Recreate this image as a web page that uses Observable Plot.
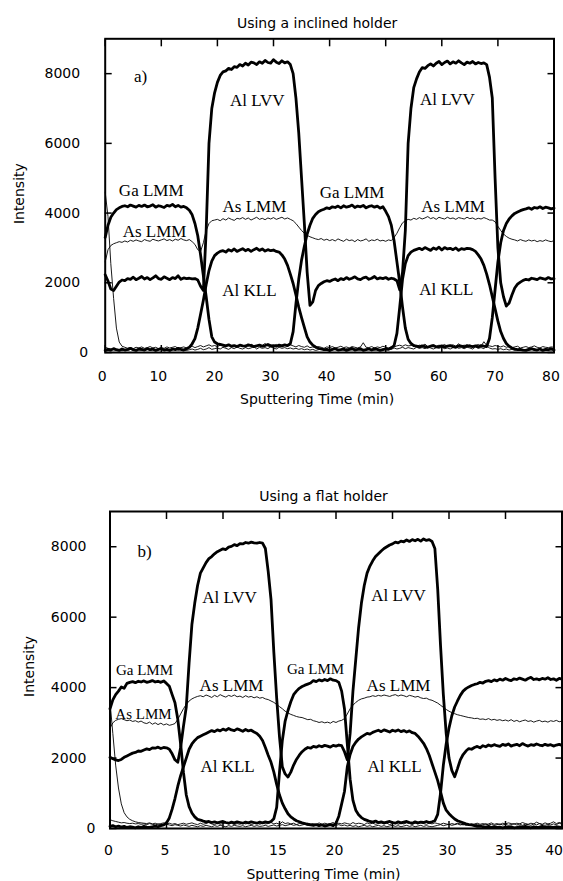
<!DOCTYPE html>
<html>
<head>
<meta charset="utf-8">
<script src="https://cdn.jsdelivr.net/npm/d3@7"></script>
<script src="https://cdn.jsdelivr.net/npm/@observablehq/plot@0.6"></script>
<style>
  html, body { margin: 0; padding: 0; background: #fff; overflow: hidden; }
  #a, #b { width: 563px; }
</style>
</head>
<body>
<div id="a"></div>
<div id="b"></div>
<script>
// ---------- Panel a) inclined holder, 0–80 min, sampled every 0.5 min ----------
const titleA = "Using a inclined holder";
const titleB = "Using a flat holder";
const xLabel = "Sputtering Time (min)";
const yLabel = "Intensity";
const xTicksA = [0, 10, 20, 30, 40, 50, 60, 70, 80];
const xTicksB = [0, 5, 10, 15, 20, 25, 30, 35, 40];
const yTicks = [0, 2000, 4000, 6000, 8000];
const yTicksUpper = [2000, 4000, 6000, 8000];
const yTicksZero = [0];

const timeA = d3.range(0, 80.5, 0.5);
const timeB = d3.range(0, 40.25, 0.25);

const alLvvA = [2230,2050,1820,1780,1900,2020,2080,2060,2120,2100,
 2160,2090,2130,2180,2110,2150,2090,2140,2200,2120,
 2100,2170,2130,2090,2150,2120,2200,2100,2140,2120,
 2130,2110,2120,2080,1900,1780,3500,6000,7000,7450,
 7750,7950,8050,8080,8150,8120,8200,8180,8260,8220,
 8300,8250,8330,8310,8260,8340,8300,8380,8320,8300,
 8400,8330,8290,8370,8310,8340,8260,8000,7300,6300,
 5000,3700,2300,1350,1450,1780,1920,1980,2030,2060,
 2040,2080,2110,2060,2120,2090,2150,2100,2130,2170,
 2110,2090,2140,2160,2100,2130,2180,2110,2140,2120,
 2150,2100,2130,2110,2060,1800,2300,3500,6000,7000,
 7600,7850,8050,8170,8150,8230,8280,8220,8300,8350,
 8260,8320,8360,8280,8340,8300,8370,8310,8260,8330,
 8300,8350,8280,8320,8290,8310,8260,7900,7300,5000,
 3000,2000,1600,1330,1420,1650,1850,1960,2020,2070,
 2100,2080,2130,2110,2090,2140,2120,2100,2150,2110,
 2120];

const gaLmmA = [3300,3650,3880,4000,4100,4150,4190,4210,4180,4230,
 4200,4170,4220,4190,4230,4180,4200,4240,4170,4210,
 4190,4160,4220,4200,4250,4180,4220,4170,4190,4150,
 4080,3950,3700,3350,2800,2200,1600,950,450,300,
 250,230,210,190,220,180,200,170,210,190,
 180,220,200,170,190,210,180,200,230,190,
 200,180,210,190,220,200,250,600,1400,2100,
 2650,3050,3400,3650,3850,3960,4040,4080,4110,4150,
 4130,4180,4160,4200,4150,4210,4170,4190,4230,4160,
 4200,4180,4220,4150,4190,4210,4170,4200,4140,4180,
 4050,3900,3650,3200,2600,2000,1300,700,380,260,
 200,180,160,190,170,150,180,200,160,170,
 190,160,180,200,170,150,190,180,160,200,
 180,170,190,160,200,180,170,400,1000,1800,
 2600,3150,3500,3700,3830,3920,3990,4030,4070,4100,
 4120,4150,4110,4160,4140,4180,4130,4170,4150,4120,
 4140];

const alKllA = [60,90,70,110,80,60,100,70,90,120,
 80,60,100,90,70,110,80,100,60,90,
 110,70,90,60,100,80,120,90,70,110,
 150,250,400,700,1100,1500,1950,2350,2620,2780,
 2850,2900,2920,2880,2950,2910,2970,2900,2940,2980,
 2920,2960,2900,2950,2990,2930,2970,2910,2950,2920,
 2940,2900,2880,2800,2680,2500,2250,1980,1650,1300,
 1000,720,450,300,210,160,120,100,80,90,
 60,90,110,70,80,100,60,90,120,70,
 90,110,60,80,100,70,110,90,60,80,
 100,90,130,200,550,1300,2100,2550,2780,2880,
 2930,2960,2990,2950,3010,2970,2930,3000,2960,3020,
 2940,3010,2970,2990,2950,3000,2930,2980,2960,2990,
 2980,2950,2900,2800,2680,2500,2250,1950,1600,1250,
 900,600,400,260,180,130,100,80,90,70,
 60,90,110,80,70,100,60,90,80,110,
 70];

const asLmmA = [2600,2950,3070,3120,3150,3180,3160,3200,3170,3220,
 3190,3230,3200,3180,3240,3210,3190,3250,3220,3200,
 3230,3260,3210,3240,3200,3250,3220,3270,3230,3210,
 3240,3180,3100,2950,2900,3150,3500,3700,3780,3800,
 3820,3780,3840,3800,3860,3820,3790,3850,3830,3870,
 3820,3860,3800,3840,3880,3820,3850,3810,3860,3830,
 3870,3820,3850,3880,3830,3860,3820,3780,3700,3600,
 3500,3420,3360,3320,3290,3260,3240,3270,3220,3250,
 3210,3240,3200,3260,3220,3190,3250,3210,3230,3180,
 3240,3200,3220,3260,3190,3230,3210,3250,3200,3220,
 3190,3230,3210,3300,3420,3580,3720,3780,3820,3800,
 3850,3820,3870,3830,3860,3900,3840,3870,3820,3880,
 3850,3830,3880,3840,3860,3820,3870,3850,3830,3880,
 3840,3860,3820,3850,3830,3870,3840,3800,3800,3750,
 3620,3500,3400,3330,3280,3250,3230,3200,3240,3210,
 3190,3230,3200,3220,3180,3210,3190,3230,3200,3180,
 3210];

const surfaceA = [4600,3900,2550,1550,700,300,180,150,120,140,
 110,150,130,160,120,140,170,130,150,110,
 140,120,160,130,150,170,120,140,160,130,
 150,180,140,170,200,160,190,220,180,200,
 170,210,190,160,230,180,200,170,220,190,
 210,180,240,190,170,220,200,260,180,210,
 190,230,170,210,200,180,220,190,160,200,
 170,150,190,140,160,130,170,150,120,160,
 140,170,130,150,180,140,160,130,170,150,
 130,160,280,150,140,170,130,160,140,180,
 150,130,170,160,190,210,180,220,190,200,
 230,180,210,190,240,170,200,220,180,210,
 190,230,170,200,220,180,250,190,210,180,
 220,190,200,230,180,310,200,190,170,200,
 180,160,190,150,170,140,160,180,130,150,
 170,140,160,190,150,130,170,150,140,160,
 150];

const minorA = [150,120,100,80,60,70,50,80,60,90,
 70,50,90,60,80,100,60,70,50,80,
 90,60,80,50,70,100,60,90,70,60,
 80,100,70,90,120,80,100,140,90,110,
 130,100,150,120,90,140,110,160,120,100,
 140,110,130,170,100,150,120,140,110,160,
 130,100,150,120,140,110,130,100,120,90,
 110,80,100,70,90,60,80,100,70,90,
 60,80,100,70,90,60,110,80,70,100,
 80,60,90,70,110,80,60,90,70,100,
 80,110,90,130,100,120,150,110,140,120,
 100,150,120,140,110,160,130,100,140,120,
 150,110,130,100,140,170,120,140,110,150,
 130,100,160,120,140,110,190,130,100,110,
 90,110,80,100,70,90,60,80,100,70,
 90,60,80,110,70,90,60,100,80,70,
 90];

// ---------- Panel b) flat holder, 0–40 min, sampled every 0.25 min ----------
const alLvvB = [2020,1980,1950,1930, 1960,2020,2060,2100, 2140,2160,2200,2190, 2230,2260,2240,2290,
 2280,2310,2270,2300, 2290,2250,2120,1950, 1880,2300,2900,3450, 4700,5800,6400,6900,
 7250,7400,7550,7660, 7720,7800,7860,7900, 7940,7920,7990,8010, 8060,8030,8090,8080,
 8120,8100,8130,8110, 8100,8120,8100,7950, 7300,6500,5000,3700, 2600,1750,1550,1460,
 1600,1800,1960,2080, 2180,2250,2300,2280, 2330,2310,2350,2320, 2360,2340,2310,2360,
 2340,2370,2350,2180, 1950,2700,3900,4800, 5700,6400,6900,7250, 7450,7600,7720,7800,
 7880,7950,8000,8050, 8080,8130,8110,8160, 8140,8190,8150,8200, 8170,8210,8160,8220,
 8180,8200,8150,7950, 6800,5200,3800,2700, 2000,1650,1470,1700, 1950,2100,2200,2270,
 2250,2300,2330,2290, 2350,2320,2370,2340, 2380,2350,2330,2390, 2360,2400,2340,2370,
 2390,2350,2410,2370, 2340,2380,2360,2400, 2370,2350,2390,2360, 2380,2340,2370,2390,
 2360];

const gaLmmB = [3400,3650,3800,3900, 4020,3980,4120,4150, 4170,4140,4180,4160, 4190,4150,4170,4200,
 4160,4180,4150,4190, 4120,4040,3800,3570, 3100,2400,1600,950, 620,440,330,260,
 240,210,190,200, 170,190,160,180, 200,170,150,180, 160,190,170,150,
 180,160,190,170, 150,180,160,190, 170,200,280,600, 1600,2500,3050,3350,
 3600,3800,3900,3980, 4030,4070,4100,4130, 4200,4170,4220,4190, 4230,4200,4250,4210,
 4200,4150,3900,3400, 2400,1400,800,520, 390,310,260,230, 200,180,210,170,
 190,160,180,200, 170,150,190,160, 180,200,170,150, 190,160,180,170,
 200,170,190,220, 400,1000,1800,2400, 2850,3200,3450,3620, 3780,3900,3970,4020,
 4060,4090,4110,4150, 4130,4180,4200,4170, 4220,4190,4240,4210, 4260,4220,4200,4250,
 4230,4270,4240,4210, 4260,4290,4230,4250, 4220,4260,4240,4280, 4230,4250,4210,4260,
 4240];

const alKllB = [60,80,50,70, 40,60,30,50, 40,20,50,30, 60,40,30,50,
 70,50,80,100, 160,300,550,850, 1200,1500,1750,2000, 2250,2400,2500,2580,
 2620,2660,2700,2740, 2780,2750,2800,2770, 2820,2790,2840,2800, 2780,2830,2800,2760,
 2810,2770,2790,2740, 2700,2620,2500,2300, 2080,1880,1600,1250, 950,720,560,420,
 330,270,220,190, 160,140,120,100, 90,110,80,100, 70,90,110,80,
 150,350,700,1050, 1750,2100,2330,2450, 2540,2600,2650,2700, 2680,2730,2760,2790,
 2750,2800,2770,2740, 2790,2760,2800,2750, 2780,2740,2770,2720, 2700,2620,2520,2420,
 2270,2080,1840,1600, 1360,1050,720,520, 420,340,270,220, 190,160,130,110,
 100,80,60,70, 50,40,60,30, 50,30,40,20, 40,30,50,20,
 30,50,40,60, 40,20,50,30, 40,60,30,50, 40,30,50,40,
 30];

const asLmmB = [2850,3000,3070,3100, 3120,3090,3060,3080, 3040,3060,3020,3050, 3000,2980,3020,2960,
 3000,2950,2990,2940, 2970,2930,2950,2980, 3100,3250,3400,3520, 3620,3680,3720,3750,
 3770,3740,3790,3760, 3720,3780,3740,3800, 3760,3730,3780,3750, 3790,3740,3760,3720,
 3770,3730,3750,3710, 3740,3700,3720,3680, 3660,3620,3580,3520, 3460,3400,3330,3280,
 3240,3210,3180,3160, 3150,3120,3090,3100, 3060,3040,3010,3030, 3000,3020,2990,3040,
 3010,3050,3070,3120, 3250,3400,3500,3580, 3640,3680,3700,3730, 3740,3770,3750,3780,
 3760,3790,3770,3750, 3780,3800,3760,3790, 3770,3740,3780,3760, 3730,3750,3710,3690,
 3700,3660,3640,3600, 3560,3500,3440,3380, 3330,3290,3260,3230, 3210,3190,3170,3150,
 3140,3120,3130,3100, 3110,3090,3120,3080, 3100,3070,3090,3060, 3080,3050,3090,3040,
 3070,3030,3060,3080, 3040,3060,3020,3050, 3070,3030,3050,3020, 3060,3040,3070,3030,
 3050];

const surfaceB = [3600,2700,1800,1150, 700,450,330,260, 220,190,170,160, 150,140,160,130,
 150,120,140,160, 130,150,120,140, 110,130,150,120, 140,160,130,110,
 150,120,140,170, 130,110,150,120, 140,160,130,150, 110,140,120,160,
 130,150,110,140, 160,120,150,130, 140,170,130,150, 120,190,140,160,
 130,150,110,140, 160,120,150,130, 140,110,160,120, 150,130,140,170,
 120,150,130,160, 140,120,170,130, 150,140,110,160, 130,150,120,140,
 160,130,150,110, 140,170,120,150, 130,160,140,120, 150,130,170,140,
 120,150,130,160, 140,120,150,130, 110,140,120,150, 130,100,140,120,
 110,130,150,120, 140,110,130,160, 120,140,110,150, 130,160,140,120,
 150,130,170,140, 120,150,130,180, 140,120,160,130, 150,190,140,170,
 150];

const minorB = [250,220,200,180, 160,170,150,140, 150,130,140,120, 130,110,140,120,
 100,130,110,90, 120,100,80,110, 90,70,100,80, 60,90,70,50,
 80,60,90,70, 50,80,60,90, 70,50,80,60, 90,70,60,80,
 50,70,90,60, 80,60,70,90, 60,80,100,70, 90,110,80,100,
 120,90,110,80, 100,120,90,110, 80,100,120,90, 110,80,100,130,
 90,110,80,100, 70,90,60,80, 50,70,90,60, 80,50,70,90,
 60,80,50,70, 90,60,80,50, 70,90,60,80, 50,70,90,60,
 80,60,50,70, 90,110,80,100, 120,90,110,130, 100,120,90,110,
 130,100,120,90, 110,140,100,120, 90,110,130,100, 120,90,110,140,
 100,130,90,120, 110,90,130,100, 140,110,90,120, 100,130,110,150,
 120];

// ---------- In-plot annotations (data coordinates: minutes, intensity) ----------
const annotTextA = ["a)", "Al LVV", "Al LVV", "Ga LMM", "Ga LMM", "As LMM", "As LMM", "As LMM", "Al KLL", "Al KLL"];
const annotTimeA = [6.3, 27.1, 61.0, 8.2, 44.0, 8.8, 26.6, 62.0, 25.7, 60.8];
const annotIntA  = [7747, 7058, 7087, 4480, 4422, 3305, 4041, 4021, 1634, 1662];

const annotTextB = ["b)", "Al LVV", "Al LVV", "As LMM", "As LMM", "Al KLL", "Al KLL"];
const annotTimeB = [3.05, 10.58, 25.53, 10.75, 25.53, 10.4, 25.18];
const annotIntB  = [7708, 6401, 6449, 3892, 3901, 1600, 1600];

const annotSmallTextB = ["Ga LMM", "Ga LMM", "As LMM"];
const annotSmallTimeB = [3.05, 18.19, 2.96];
const annotSmallIntB  = [4347, 4375, 3117];

// ---------- drawing ----------
const SANS = "DejaVu Sans";
const SERIF = "Liberation Serif";
const THICK = 2.8, THIN = 0.9;
const plain = d => String(d);

function panel(cfg) {
  const {t, thick, thin, xTicks, xTicksEdge, title, annots, small, yLabDx, yLabDy, xTickDx, xTickPad, xLabDy, zeroPad, upperPad} = cfg;
  const marks = [];
  for (const s of thin) marks.push(Plot.line(s, {x: t, y: s, stroke: "black", strokeWidth: THIN, strokeLinejoin: "round"}));
  for (const s of thick) marks.push(Plot.line(s, {x: t, y: s, stroke: "black", strokeWidth: THICK, strokeLinejoin: "round"}));
  // inward ticks on all four sides
  marks.push(Plot.axisX({anchor: "bottom", ticks: xTicks.concat(xTicksEdge || []), tickSize: 7, dy: -7, tickFormat: () => "", label: null, strokeWidth: 1.5}));
  marks.push(Plot.axisX({anchor: "top", ticks: xTicks.concat(xTicksEdge || []), tickSize: 7, dy: 7, tickFormat: () => "", label: null, strokeWidth: 1.5}));
  marks.push(Plot.axisY({anchor: "left", ticks: yTicks, tickSize: 7, dx: 7, tickFormat: () => "", label: null, strokeWidth: 1.5}));
  marks.push(Plot.axisY({anchor: "right", ticks: yTicks, tickSize: 7, dx: -7, tickFormat: () => "", label: null, strokeWidth: 1.5}));
  // tick labels
  marks.push(Plot.axisX({anchor: "bottom", ticks: xTicks, tickSize: 0, tickPadding: xTickPad, dx: xTickDx, tickFormat: plain, label: null, fontSize: 14, fontFamily: SANS}));
  if (xTicksEdge) marks.push(Plot.axisX({anchor: "bottom", ticks: xTicksEdge, tickSize: 0, tickPadding: xTickPad, textAnchor: "end", dx: 1, tickFormat: plain, label: null, fontSize: 14, fontFamily: SANS}));
  marks.push(Plot.axisY({anchor: "left", ticks: yTicksUpper, tickSize: 0, tickPadding: upperPad, tickFormat: plain, label: null, fontSize: 14, fontFamily: SANS}));
  marks.push(Plot.axisY({anchor: "left", ticks: yTicksZero, tickSize: 0, tickPadding: zeroPad, tickFormat: plain, label: null, fontSize: 14, fontFamily: SANS}));
  marks.push(Plot.frame({stroke: "black", strokeWidth: 2}));
  // titles and axis labels
  marks.push(Plot.text([title], {frameAnchor: "top", text: d => d, dy: -11, dx: -12.5, lineAnchor: "bottom", fontSize: 14, fontFamily: SANS, fill: "black"}));
  marks.push(Plot.text([xLabel], {frameAnchor: "bottom", text: d => d, dy: xLabDy, dx: -12.5, lineAnchor: "bottom", fontSize: 14, fontFamily: SANS, fill: "black"}));
  marks.push(Plot.text([yLabel], {frameAnchor: "left", text: d => d, rotate: -90, dx: yLabDx, dy: yLabDy, textAnchor: "middle", lineAnchor: "middle", fontSize: 14, fontFamily: SANS, fill: "black"}));
  // annotations
  marks.push(Plot.text(annots.text, {x: annots.t, y: annots.v, text: annots.text, textAnchor: "middle", lineAnchor: "bottom", fontSize: 17, fontFamily: SERIF, fill: "black"}));
  if (small) marks.push(Plot.text(small.text, {x: small.t, y: small.v, text: small.text, textAnchor: "middle", lineAnchor: "bottom", fontSize: 15, fontFamily: SERIF, fill: "black"}));
  return marks;
}

const plotA = Plot.plot({
  width: 563, height: 440,
  marginLeft: 104.7, marginRight: 9.5, marginTop: 38.3, marginBottom: 88,
  x: {domain: [0, 80]}, y: {domain: [0, 9000]},
  style: {background: "white", fontFamily: SANS, fontSize: "14px", color: "black"},
  marks: panel({
    t: timeA, thick: [alKllA, gaLmmA, alLvvA], thin: [minorA, surfaceA, asLmmA],
    xTicks: xTicksA, title: titleA,
    annots: {text: annotTextA, t: annotTimeA, v: annotIntA},
    yLabDx: -85.7, yLabDy: -2, xTickDx: -3, xTickPad: 19, xLabDy: 51.5, zeroPad: 17, upperPad: 25
  })
});
document.getElementById("a").appendChild(plotA);

const plotB = Plot.plot({
  width: 563, height: 441,
  marginLeft: 109.5, marginRight: 1.5, marginTop: 71, marginBottom: 53,
  x: {domain: [0, 40]}, y: {domain: [0, 9000]},
  style: {background: "white", fontFamily: SANS, fontSize: "14px", color: "black"},
  marks: panel({
    t: timeB, thick: [alKllB, gaLmmB, alLvvB], thin: [minorB, surfaceB, asLmmB],
    xTicks: xTicksB.slice(0, -1), xTicksEdge: xTicksB.slice(-1), title: titleB,
    annots: {text: annotTextB, t: annotTimeB, v: annotIntB},
    small: {text: annotSmallTextB, t: annotSmallTimeB, v: annotSmallIntB},
    yLabDx: -80.5, yLabDy: -3.5, xTickDx: -1.5, xTickPad: 17, xLabDy: 50, zeroPad: 14.5, upperPad: 23.5
  })
});
document.getElementById("b").appendChild(plotB);
</script>
</body>
</html>
